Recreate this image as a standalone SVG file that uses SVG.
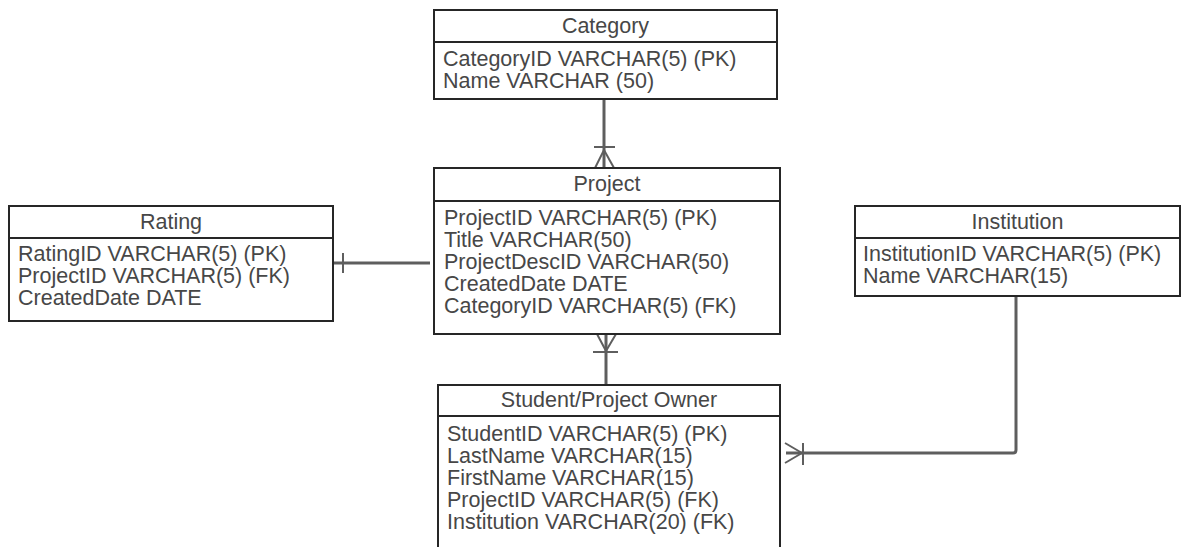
<svg xmlns="http://www.w3.org/2000/svg" width="1187" height="547" viewBox="0 0 1187 547">
  <style>
    .box { fill: #ffffff; stroke: #262626; stroke-width: 2; }
    .sep { stroke: #262626; stroke-width: 2; }
    .title { font-family: "Liberation Sans", Arial, sans-serif; font-size: 21.5px; fill: #474747; text-anchor: middle; }
    .field { font-family: "Liberation Sans", Arial, sans-serif; font-size: 21.5px; fill: #474747; }
    .conn { fill: none; stroke: #5e5e5e; stroke-width: 3; }
    .mark { fill: none; stroke: #5e5e5e; stroke-width: 2; }
  </style>
  <rect width="1187" height="547" fill="#ffffff"/>

  <!-- relationships -->
  <g id="connectors">
    <!-- Category 1 — many Project -->
    <line class="conn" x1="604" y1="99" x2="604" y2="168"/>
    <line class="mark" x1="594" y1="147" x2="615" y2="147"/>
    <line class="mark" x1="595" y1="168" x2="604" y2="150"/>
    <line class="mark" x1="614" y1="168" x2="604" y2="150"/>

    <!-- Rating — Project -->
    <line class="conn" x1="333" y1="263" x2="430" y2="263"/>
    <line class="mark" x1="343" y1="253" x2="343" y2="273"/>

    <!-- Project many — Student/Project Owner -->
    <line class="conn" x1="606" y1="334" x2="606" y2="384"/>
    <line class="mark" x1="593" y1="352" x2="618" y2="352"/>
    <line class="mark" x1="597" y1="334" x2="606" y2="351"/>
    <line class="mark" x1="616" y1="334" x2="606" y2="351"/>

    <!-- Student/Project Owner many — Institution -->
    <path class="conn" d="M786 453 H1013 Q1016 453 1016 450 V296"/>
    <line class="mark" x1="803" y1="443" x2="803" y2="465"/>
    <line class="mark" x1="785" y1="443" x2="802" y2="453"/>
    <line class="mark" x1="785" y1="463" x2="802" y2="453"/>
  </g>

  <g id="category">
    <rect class="box" x="434" y="10" width="343" height="89"/>
    <line class="sep" x1="434" y1="42" x2="777" y2="42"/>
    <text class="title" x="605.5" y="33">Category</text>
    <text class="field" x="443" y="66">CategoryID VARCHAR(5) (PK)</text>
    <text class="field" x="443" y="88">Name VARCHAR (50)</text>
  </g>

  <g id="project">
    <rect class="box" x="434" y="168" width="346" height="166"/>
    <line class="sep" x1="434" y1="201" x2="780" y2="201"/>
    <text class="title" x="607" y="191">Project</text>
    <text class="field" x="444" y="225">ProjectID VARCHAR(5) (PK)</text>
    <text class="field" x="444" y="247">Title VARCHAR(50)</text>
    <text class="field" x="444" y="269">ProjectDescID VARCHAR(50)</text>
    <text class="field" x="444" y="291">CreatedDate DATE</text>
    <text class="field" x="444" y="313">CategoryID VARCHAR(5) (FK)</text>
  </g>

  <g id="rating">
    <rect class="box" x="9" y="206" width="324" height="115"/>
    <line class="sep" x1="9" y1="238" x2="333" y2="238"/>
    <text class="title" x="171" y="229">Rating</text>
    <text class="field" x="18" y="261">RatingID VARCHAR(5) (PK)</text>
    <text class="field" x="18" y="283">ProjectID VARCHAR(5) (FK)</text>
    <text class="field" x="18" y="305">CreatedDate DATE</text>
  </g>

  <g id="institution">
    <rect class="box" x="855" y="206" width="325" height="90"/>
    <line class="sep" x1="855" y1="238" x2="1180" y2="238"/>
    <text class="title" x="1017.5" y="229">Institution</text>
    <text class="field" x="863" y="261">InstitutionID VARCHAR(5) (PK)</text>
    <text class="field" x="863" y="283">Name VARCHAR(15)</text>
  </g>

  <g id="student-project-owner">
    <rect class="box" x="438" y="385" width="342" height="180"/>
    <line class="sep" x1="438" y1="416" x2="780" y2="416"/>
    <text class="title" x="609" y="407">Student/Project Owner</text>
    <text class="field" x="447" y="441">StudentID VARCHAR(5) (PK)</text>
    <text class="field" x="447" y="463">LastName VARCHAR(15)</text>
    <text class="field" x="447" y="485">FirstName VARCHAR(15)</text>
    <text class="field" x="447" y="507">ProjectID VARCHAR(5) (FK)</text>
    <text class="field" x="447" y="529">Institution VARCHAR(20) (FK)</text>
  </g>
</svg>
